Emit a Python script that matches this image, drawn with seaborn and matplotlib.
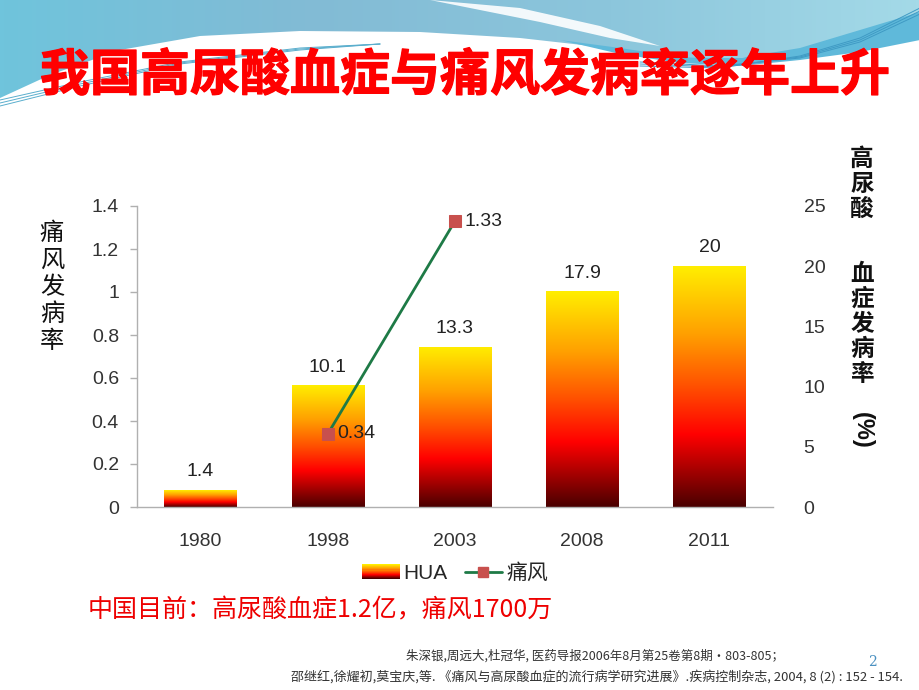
import numpy as np
import pandas as pd
import matplotlib.pyplot as plt
import seaborn as sns
from matplotlib import patheffects
from matplotlib.colors import LinearSegmentedColormap
from matplotlib.legend_handler import HandlerBase
from matplotlib.patches import Rectangle, Polygon
from matplotlib.lines import Line2D

# chart data
years = ['1980', '1998', '2003', '2008', '2011']
hua_rate = [1.4, 10.1, 13.3, 17.9, 20]          # right axis, %
gout_years = ['1998', '2003']
gout_rate = [0.34, 1.33]                         # left axis
left_ticks = [0, 0.2, 0.4, 0.6, 0.8, 1.0, 1.2, 1.4]
right_ticks = [0, 5, 10, 15, 20, 25]

title = '我国高尿酸血症与痛风发病率逐年上升'
note = '中国目前：高尿酸血症1.2亿，痛风1700万'
refs = ['朱深银,周远大,杜冠华, 医药导报2006年8月第25卷第8期·803-805；',
        '邵继红,徐耀初,莫宝庆,等. 《痛风与高尿酸血症的流行病学研究进展》.疾病控制杂志, 2004, 8 (2) : 152 - 154.']

sns.set_theme(style='white')
plt.rcParams['font.family'] = ['Liberation Sans', 'Noto Sans CJK SC', 'DejaVu Sans']
CJK = ['Noto Sans CJK SC', 'DejaVu Sans']

bar_cmap = LinearSegmentedColormap.from_list(
    'hua', [(0, '#4a0000'), (0.3, '#ff0000'), (0.5, '#ff5000'), (0.72, '#ffa000'), (1, '#ffee00')])
line_green = '#1e7a46'
mark_red = '#c8504d'

fig = plt.figure(figsize=(9.2, 6.9), dpi=100)

# slide background with the blue wave at the top
bg = fig.add_axes([0, 0, 1, 1], zorder=-5)
bg.set_xlim(0, 920)
bg.set_ylim(690, 0)
bg.axis('off')
wx = [0, 50, 120, 200, 300, 420, 520, 600, 680, 740, 800, 860, 920]
wy = [98, 75, 50, 36, 31, 32, 38, 47, 57, 58, 50, 40, 30]
band = Polygon(list(zip(wx, wy)) + [(920, 0), (0, 0)], closed=True, facecolor='none', edgecolor='none')
bg.add_patch(band)
hgrad = np.linspace(0, 1, 256).reshape(1, -1)
wave_cmap = LinearSegmentedColormap.from_list('wave', ['#6fc4dc', '#82bbd5', '#8cc6dc', '#a4dae8'])
im = bg.imshow(hgrad, cmap=wave_cmap, extent=(0, 920, 110, 0), aspect='auto', zorder=1)
im.set_clip_path(band)
# lower cyan wave on the right
low = Polygon([(560, 40), (620, 48), (680, 57), (740, 58), (800, 48), (860, 30), (920, 12), (920, 40),
               (860, 52), (800, 60), (740, 66), (680, 63), (620, 54)], closed=True,
              facecolor='#5fb9da', edgecolor='none', zorder=2)
bg.add_patch(low)
swoosh = Polygon([(430, 0), (520, 8), (600, 26), (660, 46), (610, 38), (540, 22), (470, 8)], closed=True,
                 facecolor='white', edgecolor='none', alpha=0.9, zorder=3)
bg.add_patch(swoosh)
for k in range(3):
    bg.plot([0, 80, 180, 300, 380], [100 + 3 * k, 82 + 2 * k, 62 + k, 48 + k, 44], color='#5aaecd', lw=0.7, zorder=3)
    bg.plot([640, 720, 800, 860, 920], [62 + 2 * k, 66 + k, 58 - k, 42 - 2 * k, 14 - 3 * k], color='#3f9ac4', lw=0.7, zorder=3)

fig.text(465 / 920, 1 - 76 / 690, title, color='#ff0000', fontsize=36, fontweight='black',
         family=CJK, ha='center', va='center',
         path_effects=[patheffects.withStroke(linewidth=0.9, foreground='#ff0000')])

# main chart
ax = fig.add_axes([137 / 920, 183 / 690, 636 / 920, 301 / 690])
ax2 = ax.twinx()
df = pd.DataFrame({'year': years, 'hua': hua_rate})
sns.barplot(data=df, x='year', y='hua', ax=ax2, width=0.57, color='#ff6000', saturation=1)

vgrad = np.linspace(0, 1, 256).reshape(-1, 1)
for bar in ax2.patches:
    x0, y0, w, h = bar.get_x(), bar.get_y(), bar.get_width(), bar.get_height()
    img = ax2.imshow(vgrad, cmap=bar_cmap, origin='lower', extent=(x0, x0 + w, y0, y0 + h),
                     aspect='auto', zorder=2)
    img.set_clip_path(bar)
    bar.set_facecolor('none')
    bar.set_edgecolor('none')
ax2.bar_label(ax2.containers[0], labels=[f'{v:g}' for v in hua_rate], padding=7, fontsize=14, color='#222222')

gx = [years.index(y) for y in gout_years]
sns.lineplot(x=gx, y=gout_rate, ax=ax, color=line_green, lw=2, marker='s', markersize=8,
             markerfacecolor=mark_red, markeredgecolor=mark_red, zorder=5)
for x, v in zip(gx, gout_rate):
    ax.annotate(f'{v:g}', (x, v), xytext=(7, 0), textcoords='offset points', va='center',
                fontsize=14, color='#222222')

ax.set_zorder(ax2.get_zorder() + 1)
ax.patch.set_visible(False)
ax2.patch.set_visible(False)

ax.set_xlim(-0.5, len(years) - 0.5)
ax.set_xticks(range(len(years)), years)
ax.set_ylim(0, 1.4)
ax.set_yticks(left_ticks, [f'{v:g}' for v in left_ticks])
ax2.set_ylim(0, 25)
ax2.set_yticks(right_ticks, [str(v) for v in right_ticks])
ax.set_xlabel('')
ax.set_ylabel('')
ax2.set_ylabel('')
ax2.set_xlabel('')

ax.tick_params(axis='y', left=True, length=5, width=1, color='#b0b0b0', labelsize=14, labelcolor='#333333', pad=8)
ax.tick_params(axis='x', bottom=False, labelsize=14, labelcolor='#333333', pad=13)
ax2.tick_params(axis='y', right=False, length=0, labelsize=14, labelcolor='#333333', pad=22)
for s in ['top', 'right']:
    ax.spines[s].set_visible(False)
for s in ['left', 'bottom']:
    ax.spines[s].set_color('#b0b0b0')
    ax.spines[s].set_linewidth(1)
for s in ax2.spines.values():
    s.set_visible(False)

# vertical axis titles
fig.text(52 / 920, 1 - 287 / 690, '\n'.join('痛风发病率'), family=CJK, fontsize=17.5, color='#111111',
         ha='center', va='center', linespacing=1.05)
fig.text(862 / 920, 1 - 184 / 690, '\n'.join('高尿酸'), family=CJK, fontsize=17, fontweight='bold',
         color='#111111', ha='center', va='center', linespacing=1.05)
fig.text(862 / 920, 1 - 324 / 690, '\n'.join('血症发病率'), family=CJK, fontsize=17, fontweight='bold',
         color='#111111', ha='center', va='center', linespacing=1.05)
fig.text(862 / 920, 1 - 430 / 690, '(%)', fontsize=17, fontweight='bold', color='#111111',
         ha='center', va='center', rotation=-90)


class GradientHandler(HandlerBase):
    def create_artists(self, legend, orig_handle, xdescent, ydescent, width, height, fontsize, trans):
        n = 14
        return [Rectangle((xdescent, ydescent + height * i / n), width, height / n + 0.3,
                          facecolor=bar_cmap(i / (n - 1)), edgecolor='none', transform=trans)
                for i in range(n)]


handles = [Rectangle((0, 0), 1, 1),
           Line2D([], [], color=line_green, lw=2, marker='s', markersize=7,
                  markerfacecolor=mark_red, markeredgecolor=mark_red)]
fig.legend(handles, ['HUA', '痛风'], handler_map={Rectangle: GradientHandler()}, loc='center',
           bbox_to_anchor=(455 / 920, 1 - 573 / 690), ncol=2, frameon=False, fontsize=15,
           handlelength=1.8, columnspacing=0.8, handletextpad=0.2)

fig.text(88 / 920, 1 - 610 / 690, note, color='#ee0000', fontsize=18, family=CJK, va='center')
fig.text(406 / 920, 1 - 656 / 690, refs[0], color='#333333', fontsize=9, family=CJK, va='center')
fig.text(291 / 920, 1 - 677 / 690, refs[1], color='#333333', fontsize=9.4, family=CJK, va='center')
fig.text(868 / 920, 1 - 662 / 690, '2', color='#4a90c0', fontsize=10, family='DejaVu Serif', va='center')

fig.savefig('out.png', dpi=100)
